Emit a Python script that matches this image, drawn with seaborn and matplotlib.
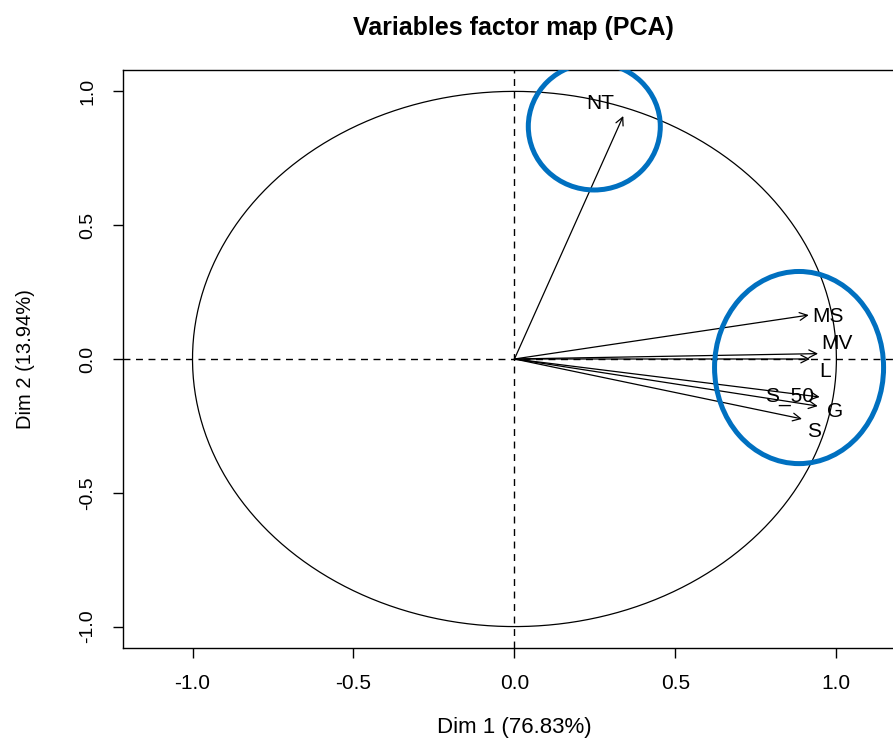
import numpy as np
import pandas as pd
import seaborn as sns
import matplotlib.pyplot as plt
from matplotlib.patches import Ellipse

sns.set_style("white")
plt.rcParams['font.family'] = ['Liberation Sans', 'DejaVu Sans']

# variable coordinates on the first two dimensions
variables = ["NT", "MS", "MV", "L", "S_50", "G", "S"]
dim1 = [0.338, 0.914, 0.943, 0.918, 0.948, 0.942, 0.893]
dim2 = [0.908, 0.164, 0.020, 0.000, -0.142, -0.176, -0.224]
# where the labels sit
label_x = [0.266, 0.973, 1.001, 0.965, 0.856, 0.995, 0.930]
label_y = [0.954, 0.160, 0.057, -0.045, -0.142, -0.197, -0.272]

# blue highlight ellipses (center x, center y, width, height)
hl_cx = [0.248, 0.884]
hl_cy = [0.869, -0.032]
hl_w = [0.41, 0.525]
hl_h = [0.475, 0.718]

ticks = [-1.0, -0.5, 0.0, 0.5, 1.0]

fig = plt.figure(figsize=(8.93, 7.42), dpi=100)
ax = fig.add_axes([0.1377, 0.1267, 0.8768, 0.779])

# correlation circle
theta = np.linspace(0, 2 * np.pi, 400)
circ = pd.DataFrame({"x": np.cos(theta), "y": np.sin(theta)})
sns.lineplot(data=circ, x="x", y="y", sort=False, estimator=None, errorbar=None,
             color="black", lw=0.9, ax=ax)

ax.axhline(0, color="black", lw=1, ls=(0, (5, 4)))
ax.axvline(0, color="black", lw=1, ls=(0, (5, 4)))

for name, x, y, lx, ly in zip(variables, dim1, dim2, label_x, label_y):
    ax.annotate("", xy=(x, y), xytext=(0, 0),
                arrowprops=dict(arrowstyle="->", color="black", lw=0.9,
                                shrinkA=0, shrinkB=0, mutation_scale=14))
    ax.text(lx, ly, name, ha="center", va="center", fontsize=15, color="black")

for cx, cy, w, h in zip(hl_cx, hl_cy, hl_w, hl_h):
    ax.add_patch(Ellipse((cx, cy), w, h, fill=False, ec="#0070C0", lw=3.6, zorder=5))

ax.set_xlim(-1.216, 1.216)
ax.set_ylim(-1.08, 1.08)
ax.set_xticks(ticks)
ax.set_yticks(ticks)
ax.set_xticklabels([f"{t:.1f}" for t in ticks], fontsize=15)
ax.set_yticklabels([f"{t:.1f}" for t in ticks], fontsize=14, rotation=90, va="center")
ax.tick_params(axis="both", direction="out", length=7, width=1, color="black",
               labelcolor="black", pad=12, bottom=True, left=True)
for s in ax.spines.values():
    s.set_color("black")
    s.set_linewidth(1)

ax.set_xlabel("Dim 1 (76.83%)", fontsize=16, labelpad=17, color="black")
ax.set_ylabel("Dim 2 (13.94%)", fontsize=14.5, labelpad=32, color="black")
fig.text(0.575, 0.962, "Variables factor map (PCA)", ha="center", va="center",
         fontsize=18, fontweight="bold", color="black")

fig.savefig("out.png", dpi=100)
